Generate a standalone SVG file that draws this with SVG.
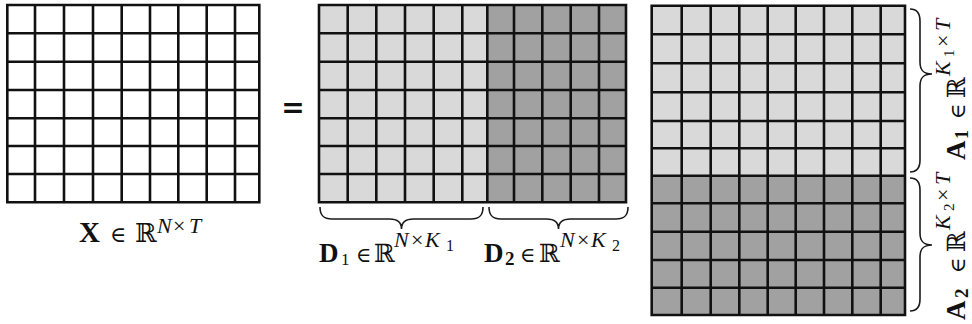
<svg xmlns="http://www.w3.org/2000/svg" width="972" height="324" viewBox="0 0 972 324">
<style>
.grid{stroke:#111;stroke-width:2.6;fill:none;stroke-linecap:square}
.light{fill:#d9d9d9}
.dark{fill:#a1a1a1}
.white{fill:#fff}
.brace{stroke:#1a1a1a;stroke-width:1.6;fill:none}
.m{font-family:"Liberation Serif","DejaVu Serif",serif;fill:#111}
.s{font-family:"DejaVu Serif","Liberation Serif",serif}
.b{font-weight:bold}
.i{font-style:italic}
</style>
<rect width="972" height="324" fill="#fff"/>
<g id="X">
<rect class="white" x="7.3" y="5" width="252" height="197.3"/>
<path class="grid" d="M7.3 5V202.3M35 5V202.3M64 5V202.3M93 5V202.3M121.7 5V202.3M150 5V202.3M178.3 5V202.3M206.7 5V202.3M235 5V202.3M259.3 5V202.3M7.3 5H259.3M7.3 33.3H259.3M7.3 61.7H259.3M7.3 90H259.3M7.3 118.3H259.3M7.3 146H259.3M7.3 174H259.3M7.3 202.3H259.3"/>
</g>
<g id="equals">
<text class="b" x="293" y="117" font-family="DejaVu Sans, sans-serif" font-size="28" text-anchor="middle" fill="#111">=</text>
</g>
<g id="D">
<rect class="light" x="319" y="5" width="168.3" height="197.3"/>
<rect class="dark" x="487.3" y="5" width="138.7" height="197.3"/>
<path class="grid" d="M319 5V202.3M347.7 5V202.3M376.3 5V202.3M405 5V202.3M433.7 5V202.3M462.3 5V202.3M487.3 5V202.3M514 5V202.3M542.3 5V202.3M570.7 5V202.3M599 5V202.3M626 5V202.3M319 5H626M319 33.3H626M319 61.7H626M319 90H626M319 118.3H626M319 146H626M319 174H626M319 202.3H626"/>
</g>
<g id="A">
<rect class="light" x="651.7" y="5.7" width="253.3" height="170"/>
<rect class="dark" x="651.7" y="175.7" width="253.3" height="139.3"/>
<path class="grid" d="M651.7 5.7V315M681.7 5.7V315M710.7 5.7V315M739.3 5.7V315M767.7 5.7V315M795.7 5.7V315M824 5.7V315M852.3 5.7V315M880.7 5.7V315M905 5.7V315M651.7 5.7H905M651.7 34.3H905M651.7 63.3H905M651.7 92.3H905M651.7 121H905M651.7 148.3H905M651.7 175.7H905M651.7 203.3H905M651.7 231.7H905M651.7 260H905M651.7 287.7H905M651.7 315H905"/>
</g>
<g id="connectors">
<path class="brace" d="M320 207C320 215 323 219 332 219L389.5 219C397.5 219 401.5 222 401.5 229C401.5 222 405.5 219 413.5 219L471 219C480 219 483 215 483 207"/>
<path class="brace" d="M489 207C489 215 492 219 501 219L546.5 219C554.5 219 558.5 222 558.5 229C558.5 222 562.5 219 570.5 219L616 219C625 219 628 215 628 207"/>
<path class="brace" d="M910 9C916 9 920 12 920 21L920 62C920 70 923 74 932 74C923 74 920 78 920 86L920 160C920 169 916 172 910 172"/>
<path class="brace" d="M910 178C916 178 920 181 920 190L920 233C920 241 923 245 932 245C923 245 920 249 920 257L920 299C920 308 916 311 910 311"/>
</g>
<g id="label-X">
<text class="m" font-size="29" y="242"><tspan class="b" x="79">X</tspan><tspan class="s" font-size="22" x="110">∈</tspan><tspan class="s" font-size="26" x="135">ℝ</tspan><tspan class="i" font-size="22" x="157" y="233">N</tspan><tspan font-size="22" x="173" y="233">×</tspan><tspan class="i" font-size="22" x="189" y="233">T</tspan></text>
</g>
<g id="label-D1">
<text class="m" font-size="27" y="262"><tspan class="b" x="319">D</tspan><tspan font-size="17" x="341" y="265">1</tspan><tspan class="s" font-size="21" x="356" y="262">∈</tspan><tspan class="s" font-size="25" x="374" y="262">ℝ</tspan><tspan class="i" font-size="22" x="394" y="247">N</tspan><tspan font-size="22" x="411" y="247">×</tspan><tspan class="i" font-size="22" x="425" y="247">K</tspan><tspan font-size="16" x="446" y="251">1</tspan></text>
</g>
<g id="label-D2">
<text class="m" font-size="27" y="262"><tspan class="b" x="484">D</tspan><tspan class="b" font-size="19" x="505" y="265">2</tspan><tspan class="s" font-size="21" x="520" y="262">∈</tspan><tspan class="s" font-size="25" x="539" y="262">ℝ</tspan><tspan class="i" font-size="22" x="560" y="247">N</tspan><tspan font-size="22" x="577" y="247">×</tspan><tspan class="i" font-size="22" x="591" y="247">K</tspan><tspan font-size="16" x="612" y="251">2</tspan></text>
</g>
<g id="label-A1" transform="translate(965 160) rotate(-90)">
<text class="m" font-size="27" y="0"><tspan class="b" x="0">A</tspan><tspan class="b" font-size="18" x="21" y="3">1</tspan><tspan class="s" font-size="21" x="41" y="0">∈</tspan><tspan class="s" font-size="25" x="62" y="0">ℝ</tspan><tspan class="i" font-size="22" x="84" y="-15">K</tspan><tspan font-size="15" x="103" y="-11">1</tspan><tspan font-size="22" x="113" y="-15">×</tspan><tspan class="i" font-size="22" x="129" y="-15">T</tspan></text>
</g>
<g id="label-A2" transform="translate(965 320) rotate(-90)">
<text class="m" font-size="27" y="0"><tspan class="b" x="0">A</tspan><tspan class="b" font-size="19" x="22" y="3">2</tspan><tspan class="s" font-size="21" x="47" y="0">∈</tspan><tspan class="s" font-size="25" x="68" y="0">ℝ</tspan><tspan class="i" font-size="22" x="90" y="-15">K</tspan><tspan font-size="15" x="109" y="-11">2</tspan><tspan font-size="22" x="119" y="-15">×</tspan><tspan class="i" font-size="22" x="135" y="-15">T</tspan></text>
</g>
</svg>
